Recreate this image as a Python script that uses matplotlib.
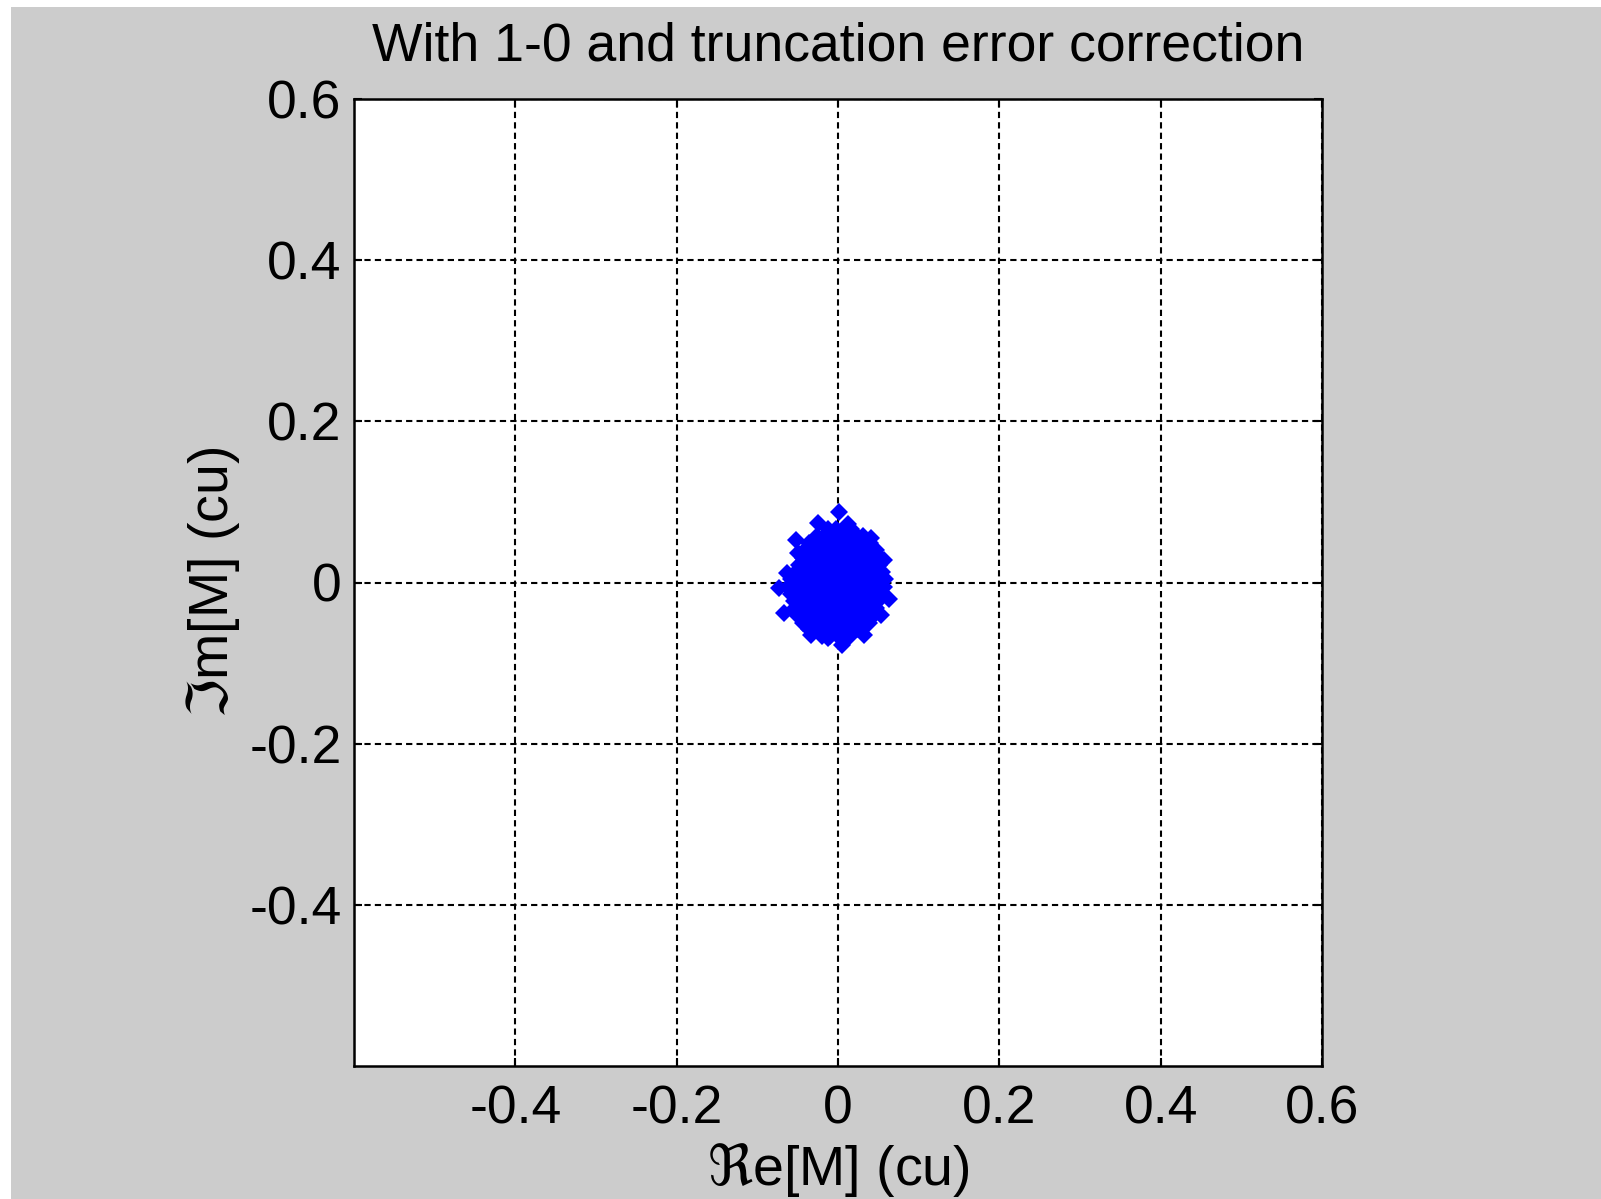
import matplotlib
matplotlib.use("Agg")
import matplotlib.pyplot as plt
from matplotlib.patches import Rectangle

plt.rcParams['font.family'] = ['Liberation Sans', 'DejaVu Sans']
plt.rcParams['axes.unicode_minus'] = False
plt.rcParams['mathtext.fontset'] = 'dejavusans'

title = "With 1-0 and truncation error correction"
xlabel = r"$\Re$e[M] (cu)"
ylabel = r"$\Im$m[M] (cu)"
ticks = [-0.4, -0.2, 0, 0.2, 0.4, 0.6]
tick_labels = ["-0.4", "-0.2", "0", "0.2", "0.4", "0.6"]

re_vals = [
    # core rows
    -0.012, -0.002, 0.008, 0.016,
    -0.026, -0.016, -0.006, 0.004, 0.014, 0.024, 0.031,
    -0.036, -0.027, -0.017, -0.007, 0.003, 0.013, 0.023, 0.033, 0.040,
    -0.041, -0.031, -0.021, -0.011, -0.001, 0.009, 0.019, 0.029, 0.039, 0.047,
    -0.044, -0.034, -0.024, -0.014, -0.004, 0.006, 0.016, 0.026, 0.036, 0.046, 0.052,
    -0.048, -0.038, -0.028, -0.018, -0.008, 0.002, 0.012, 0.022, 0.032, 0.042, 0.051,
    -0.052, -0.042, -0.032, -0.022, -0.012, -0.002, 0.008, 0.018, 0.028, 0.038, 0.048, 0.055,
    -0.058, -0.048, -0.038, -0.028, -0.018, -0.008, 0.002, 0.012, 0.022, 0.032, 0.042, 0.052, 0.058,
    -0.062, -0.052, -0.042, -0.032, -0.022, -0.012, -0.002, 0.008, 0.018, 0.028, 0.038, 0.048, 0.057,
    -0.058, -0.048, -0.038, -0.028, -0.018, -0.008, 0.002, 0.012, 0.022, 0.032, 0.042, 0.054,
    -0.054, -0.044, -0.034, -0.024, -0.014, -0.004, 0.006, 0.016, 0.026, 0.036, 0.046, 0.050,
    -0.053, -0.043, -0.033, -0.023, -0.013, -0.003, 0.007, 0.017, 0.027, 0.037, 0.047,
    -0.050, -0.040, -0.030, -0.020, -0.010, 0.000, 0.010, 0.020, 0.030, 0.040, 0.044,
    -0.044, -0.034, -0.024, -0.014, -0.004, 0.006, 0.016, 0.026, 0.038,
    -0.036, -0.026, -0.016, -0.006, 0.004, 0.014, 0.024, 0.030,
    -0.020, -0.010, 0.000, 0.010, 0.015,
    # outliers on the rim
    0.001, -0.025, 0.012, -0.052, 0.041, -0.050, -0.063, 0.057,
    -0.073, 0.063, -0.067, 0.053, -0.034, -0.013, 0.005, 0.032,
]
im_vals = [
    0.066, 0.066, 0.066, 0.066,
    0.058, 0.058, 0.058, 0.058, 0.058, 0.058, 0.058,
    0.049, 0.049, 0.049, 0.049, 0.049, 0.049, 0.049, 0.049, 0.049,
    0.040, 0.040, 0.040, 0.040, 0.040, 0.040, 0.040, 0.040, 0.040, 0.040,
    0.031, 0.031, 0.031, 0.031, 0.031, 0.031, 0.031, 0.031, 0.031, 0.031, 0.031,
    0.022, 0.022, 0.022, 0.022, 0.022, 0.022, 0.022, 0.022, 0.022, 0.022, 0.022,
    0.013, 0.013, 0.013, 0.013, 0.013, 0.013, 0.013, 0.013, 0.013, 0.013, 0.013, 0.013,
    0.004, 0.004, 0.004, 0.004, 0.004, 0.004, 0.004, 0.004, 0.004, 0.004, 0.004, 0.004, 0.004,
    -0.005, -0.005, -0.005, -0.005, -0.005, -0.005, -0.005, -0.005, -0.005, -0.005, -0.005, -0.005, -0.005,
    -0.014, -0.014, -0.014, -0.014, -0.014, -0.014, -0.014, -0.014, -0.014, -0.014, -0.014, -0.014,
    -0.023, -0.023, -0.023, -0.023, -0.023, -0.023, -0.023, -0.023, -0.023, -0.023, -0.023, -0.023,
    -0.032, -0.032, -0.032, -0.032, -0.032, -0.032, -0.032, -0.032, -0.032, -0.032, -0.032,
    -0.041, -0.041, -0.041, -0.041, -0.041, -0.041, -0.041, -0.041, -0.041, -0.041, -0.041,
    -0.050, -0.050, -0.050, -0.050, -0.050, -0.050, -0.050, -0.050, -0.050,
    -0.058, -0.058, -0.058, -0.058, -0.058, -0.058, -0.058, -0.058,
    -0.066, -0.066, -0.066, -0.066, -0.066,
    0.088, 0.074, 0.072, 0.053, 0.055, 0.036, 0.012, 0.028,
    -0.007, -0.021, -0.038, -0.040, -0.065, -0.069, -0.077, -0.065,
]

W, H = 1601, 1199
fig = plt.figure(figsize=(W / 100, H / 100), dpi=100, facecolor='white')
fig.patches.append(Rectangle((11 / W, 0), 1 - 11 / W, 1 - 7 / H,
                             transform=fig.transFigure, facecolor='#cccccc',
                             edgecolor='none', zorder=-10))

ax = fig.add_axes([354 / W, 133 / H, 968 / W, 967 / H])
ax.set_facecolor('white')
ax.plot(re_vals, im_vals, linestyle='none', marker='D', markersize=9,
        color='#0000ff', markeredgewidth=0)

ax.set_xlim(-0.6, 0.6)
ax.set_ylim(-0.6, 0.6)
ax.set_xticks(ticks)
ax.set_xticklabels(tick_labels)
ax.set_yticks(ticks)
ax.set_yticklabels(tick_labels)
ax.tick_params(direction='in', length=6, width=1.5, labelsize=38.5,
               colors='black', top=True, right=True)
ax.tick_params(axis='x', pad=13)
ax.tick_params(axis='y', pad=9)
ax.grid(True, color='black', linestyle=(0, (3, 2)), linewidth=1.5)
ax.set_axisbelow(True)
for s in ax.spines.values():
    s.set_linewidth(1.8)
    s.set_color('black')

ax.set_title(title, fontsize=38.5, pad=28)
ax.set_xlabel(xlabel, fontsize=40, labelpad=5)
ax.set_ylabel(ylabel, fontsize=40, labelpad=5)

fig.savefig('out.png', dpi=100, facecolor=fig.get_facecolor())
